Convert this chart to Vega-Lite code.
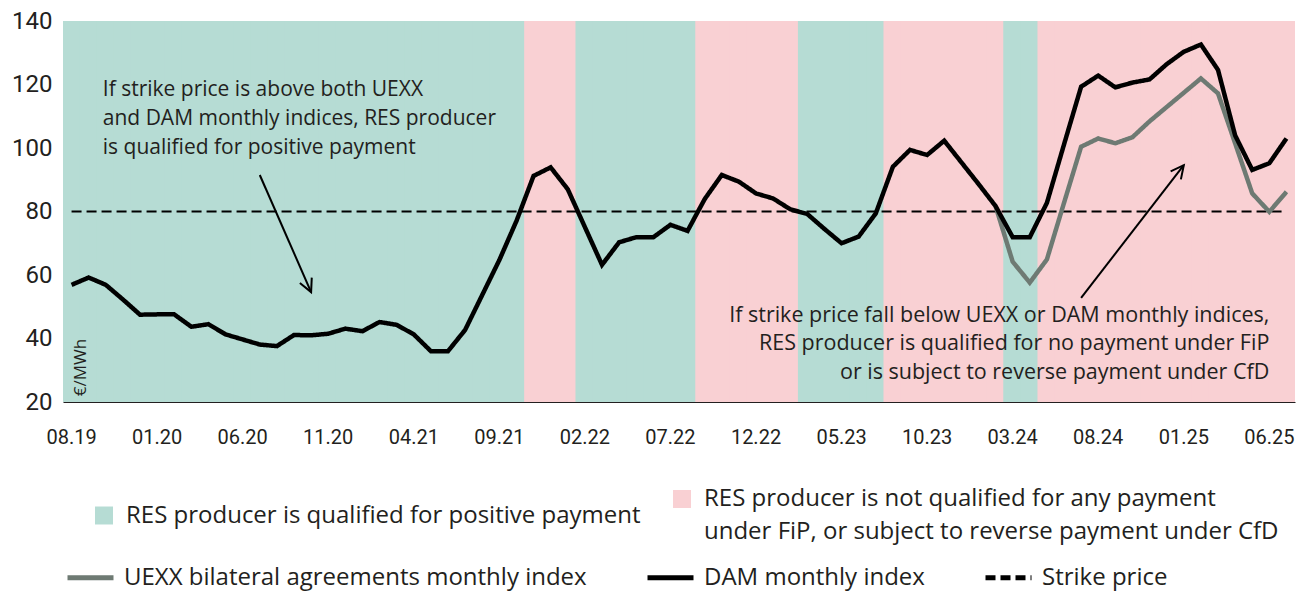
{
  "$schema": "https://vega.github.io/schema/vega-lite/v6.json",
  "width": 1232,
  "height": 381,
  "autosize": {"type": "none"},
  "padding": {"left": 63, "top": 21, "right": 1, "bottom": 189},
  "background": "white",
  "config": {
    "font": "Open Sans",
    "view": {"stroke": null},
    "axis": {"labelColor": "#231f20", "titleColor": "#231f20", "grid": false, "labelFont": "Roboto", "titleFont": "Open Sans"},
    "legend": {"labelColor": "#231f20", "labelFont": "Open Sans", "labelFontSize": 24, "labelLimit": 800, "padding": 0}
  },
  "datasets": {
    "main": [
      {"month": "08.19", "zone": "qualified", "dam": 56.9},
      {"month": "09.19", "zone": "qualified", "dam": 59.2},
      {"month": "10.19", "zone": "qualified", "dam": 56.9},
      {"month": "11.19", "zone": "qualified", "dam": 52.3},
      {"month": "12.19", "zone": "qualified", "dam": 47.5},
      {"month": "01.20", "zone": "qualified", "dam": 47.6},
      {"month": "02.20", "zone": "qualified", "dam": 47.6},
      {"month": "03.20", "zone": "qualified", "dam": 43.7},
      {"month": "04.20", "zone": "qualified", "dam": 44.5},
      {"month": "05.20", "zone": "qualified", "dam": 41.3},
      {"month": "06.20", "zone": "qualified", "dam": 39.7},
      {"month": "07.20", "zone": "qualified", "dam": 38.1},
      {"month": "08.20", "zone": "qualified", "dam": 37.6},
      {"month": "09.20", "zone": "qualified", "dam": 41.1},
      {"month": "10.20", "zone": "qualified", "dam": 41.0},
      {"month": "11.20", "zone": "qualified", "dam": 41.5},
      {"month": "12.20", "zone": "qualified", "dam": 43.1},
      {"month": "01.21", "zone": "qualified", "dam": 42.3},
      {"month": "02.21", "zone": "qualified", "dam": 45.2},
      {"month": "03.21", "zone": "qualified", "dam": 44.3},
      {"month": "04.21", "zone": "qualified", "dam": 41.3},
      {"month": "05.21", "zone": "qualified", "dam": 36.0},
      {"month": "06.21", "zone": "qualified", "dam": 36.0},
      {"month": "07.21", "zone": "qualified", "dam": 42.7},
      {"month": "08.21", "zone": "qualified", "dam": 53.7},
      {"month": "09.21", "zone": "qualified", "dam": 64.7},
      {"month": "10.21", "zone": "qualified", "dam": 77.0},
      {"month": "11.21", "zone": "not qualified", "dam": 91.2},
      {"month": "12.21", "zone": "not qualified", "dam": 93.9},
      {"month": "01.22", "zone": "not qualified", "dam": 87.0},
      {"month": "02.22", "zone": "qualified", "dam": 75.1},
      {"month": "03.22", "zone": "qualified", "dam": 63.2},
      {"month": "04.22", "zone": "qualified", "dam": 70.3},
      {"month": "05.22", "zone": "qualified", "dam": 71.9},
      {"month": "06.22", "zone": "qualified", "dam": 71.9},
      {"month": "07.22", "zone": "qualified", "dam": 75.8},
      {"month": "08.22", "zone": "qualified", "dam": 73.9},
      {"month": "09.22", "zone": "not qualified", "dam": 83.9},
      {"month": "10.22", "zone": "not qualified", "dam": 91.5},
      {"month": "11.22", "zone": "not qualified", "dam": 89.4},
      {"month": "12.22", "zone": "not qualified", "dam": 85.7},
      {"month": "01.23", "zone": "not qualified", "dam": 84.1},
      {"month": "02.23", "zone": "not qualified", "dam": 80.7},
      {"month": "03.23", "zone": "qualified", "dam": 79.2},
      {"month": "04.23", "zone": "qualified", "dam": 74.5},
      {"month": "05.23", "zone": "qualified", "dam": 70.0},
      {"month": "06.23", "zone": "qualified", "dam": 72.1},
      {"month": "07.23", "zone": "qualified", "dam": 79.4},
      {"month": "08.23", "zone": "not qualified", "dam": 94.1},
      {"month": "09.23", "zone": "not qualified", "dam": 99.4},
      {"month": "10.23", "zone": "not qualified", "dam": 97.8},
      {"month": "11.23", "zone": "not qualified", "dam": 102.3},
      {"month": "12.23", "zone": "not qualified", "dam": 95.5},
      {"month": "01.24", "zone": "not qualified", "dam": 88.7},
      {"month": "02.24", "zone": "not qualified", "dam": 81.7, "uexx": 81.7},
      {"month": "03.24", "zone": "qualified", "dam": 71.9, "uexx": 64.2},
      {"month": "04.24", "zone": "qualified", "dam": 71.9, "uexx": 57.6},
      {"month": "05.24", "zone": "not qualified", "dam": 82.7, "uexx": 64.9},
      {"month": "06.24", "zone": "not qualified", "dam": 101.1, "uexx": 82.7},
      {"month": "07.24", "zone": "not qualified", "dam": 119.3, "uexx": 100.4},
      {"month": "08.24", "zone": "not qualified", "dam": 122.8, "uexx": 103.0},
      {"month": "09.24", "zone": "not qualified", "dam": 119.1, "uexx": 101.5},
      {"month": "10.24", "zone": "not qualified", "dam": 120.6, "uexx": 103.4},
      {"month": "11.24", "zone": "not qualified", "dam": 121.6, "uexx": 108.4},
      {"month": "12.24", "zone": "not qualified", "dam": 126.4, "uexx": 112.9},
      {"month": "01.25", "zone": "not qualified", "dam": 130.3, "uexx": 117.4},
      {"month": "02.25", "zone": "not qualified", "dam": 132.6, "uexx": 121.9},
      {"month": "03.25", "zone": "not qualified", "dam": 124.6, "uexx": 117.2},
      {"month": "04.25", "zone": "not qualified", "dam": 104.0, "uexx": 101.5},
      {"month": "05.25", "zone": "not qualified", "dam": 93.1, "uexx": 85.7},
      {"month": "06.25", "zone": "not qualified", "dam": 95.2, "uexx": 79.9},
      {"month": "07.25", "zone": "not qualified", "dam": 103.0, "uexx": 86.2}
    ],
    "notes": [
      {"note": "left", "month": "10.19", "val": 116.4, "text": "If strike price is above both UEXX"},
      {"note": "left", "month": "10.19", "val": 107.2, "text": "and DAM monthly indices, RES producer"},
      {"note": "left", "month": "10.19", "val": 98.1, "text": "is qualified for positive payment"},
      {"note": "right", "month": "06.25", "val": 45.3, "text": "If strike price fall below UEXX or DAM monthly indices,"},
      {"note": "right", "month": "06.25", "val": 36.3, "text": "RES producer is qualified for no payment under FiP"},
      {"note": "right", "month": "06.25", "val": 27.4, "text": "or is subject to reverse payment under CfD"}
    ],
    "arrows": [
      {"arrow": "a1", "role": "tail", "month": "07.20", "val": 91.5},
      {"arrow": "a1", "role": "head", "month": "10.20", "val": 54.6},
      {"arrow": "a2", "role": "tail", "month": "07.24", "val": 52.8},
      {"arrow": "a2", "role": "head", "month": "01.25", "val": 94.6}
    ]
  },
  "data": {"name": "main"},
  "layer": [
    {
      "mark": {"type": "bar", "width": {"band": 1.1}, "clip": true},
      "encoding": {
        "x": {
          "field": "month", "type": "ordinal", "title": null,
          "scale": {
            "domain": ["08.19","09.19","10.19","11.19","12.19","01.20","02.20","03.20","04.20","05.20","06.20","07.20","08.20","09.20","10.20","11.20","12.20","01.21","02.21","03.21","04.21","05.21","06.21","07.21","08.21","09.21","10.21","11.21","12.21","01.22","02.22","03.22","04.22","05.22","06.22","07.22","08.22","09.22","10.22","11.22","12.22","01.23","02.23","03.23","04.23","05.23","06.23","07.23","08.23","09.23","10.23","11.23","12.23","01.24","02.24","03.24","04.24","05.24","06.24","07.24","08.24","09.24","10.24","11.24","12.24","01.25","02.25","03.25","04.25","05.25","06.25","07.25"],
            "paddingInner": 0, "paddingOuter": 0
          },
          "axis": {
            "values": ["08.19","01.20","06.20","11.20","04.21","09.21","02.22","07.22","12.22","05.23","10.23","03.24","08.24","01.25","06.25"],
            "labelAngle": 0, "labelFontSize": 20, "labelPadding": 25, "ticks": false,
            "domain": true, "domainColor": "#231f20", "domainWidth": 1.2, "zindex": 1
          }
        },
        "y": {
          "datum": 140, "type": "quantitative", "title": "€/MWh",
          "scale": {"domain": [20, 140], "nice": false},
          "axis": {
            "values": [20, 40, 60, 80, 100, 120, 140], "domain": false, "ticks": false,
            "labelFontSize": 24, "labelPadding": 11, "zindex": 1,
            "titleFontSize": 17, "titleFontWeight": "normal", "titleX": 17, "titleY": 346,
            "titleAngle": 270, "titleAlign": "center", "titleBaseline": "middle"
          }
        },
        "y2": {"datum": 20},
        "fill": {
          "field": "zone", "type": "nominal",
          "scale": {"domain": ["qualified", "not qualified"], "range": ["#b6dcd4", "#f9d0d3"]},
          "legend": {
            "title": null, "orient": "none", "direction": "horizontal", "legendX": 29, "legendY": 466,
            "symbolType": "square", "symbolSize": 324, "symbolStrokeWidth": 0, "labelOffset": 10, "columnPadding": 29,
            "labelExpr": "datum.label == 'qualified' ? 'RES producer is qualified for positive payment' : ['RES producer is not qualified for any payment', 'under FiP, or subject to reverse payment under CfD']",
            "encode": {"labels": {"update": {"lineHeight": {"value": 33}}}}
          }
        }
      }
    },
    {
      "mark": {"type": "line", "strokeWidth": 2},
      "encoding": {
        "x": {"field": "month", "type": "ordinal", "title": null},
        "y": {"datum": 80, "type": "quantitative", "title": "€/MWh"},
        "stroke": {
          "datum": "Strike price", "type": "nominal",
          "scale": {"domain": ["UEXX bilateral agreements monthly index", "DAM monthly index", "Strike price"], "range": ["#6e7a73", "#000000", "#000000"]},
          "legend": {
            "title": null, "orient": "none", "direction": "horizontal", "legendX": 2, "legendY": 531,
            "symbolType": "stroke", "symbolSize": 2116, "symbolStrokeWidth": 5, "labelOffset": 8, "columnPadding": 50
          }
        },
        "strokeDash": {
          "datum": "Strike price", "type": "nominal",
          "scale": {"domain": ["UEXX bilateral agreements monthly index", "DAM monthly index", "Strike price"], "range": [[1, 0], [1, 0], [10, 5]]},
          "legend": {
            "title": null, "orient": "none", "direction": "horizontal", "legendX": 2, "legendY": 531,
            "symbolType": "stroke", "symbolSize": 2116, "symbolStrokeWidth": 5, "labelOffset": 8, "columnPadding": 50
          }
        }
      }
    },
    {
      "mark": {"type": "line", "strokeWidth": 4.5, "strokeJoin": "miter"},
      "encoding": {
        "x": {"field": "month", "type": "ordinal", "title": null},
        "y": {"field": "uexx", "type": "quantitative", "title": "€/MWh"},
        "stroke": {"datum": "UEXX bilateral agreements monthly index", "type": "nominal"},
        "strokeDash": {"datum": "UEXX bilateral agreements monthly index", "type": "nominal"}
      }
    },
    {
      "mark": {"type": "line", "strokeWidth": 4.5, "strokeJoin": "miter"},
      "encoding": {
        "x": {"field": "month", "type": "ordinal", "title": null},
        "y": {"field": "dam", "type": "quantitative", "title": "€/MWh"},
        "stroke": {"datum": "DAM monthly index", "type": "nominal"},
        "strokeDash": {"datum": "DAM monthly index", "type": "nominal"}
      }
    },
    {
      "data": {"name": "arrows"},
      "mark": {"type": "line", "strokeWidth": 2, "color": "#000000"},
      "encoding": {
        "x": {"field": "month", "type": "ordinal", "title": null},
        "y": {"field": "val", "type": "quantitative", "title": "€/MWh"},
        "detail": {"field": "arrow", "type": "nominal"}
      }
    },
    {
      "data": {"name": "arrows"},
      "transform": [{"filter": "datum.arrow == 'a1' && datum.role == 'head'"}],
      "mark": {"type": "point", "shape": "M-0.5,1L0,0L0.5,1", "size": 676, "filled": false, "stroke": "#000000", "strokeWidth": 2, "angle": 156, "opacity": 1},
      "encoding": {
        "x": {"field": "month", "type": "ordinal", "title": null},
        "y": {"field": "val", "type": "quantitative", "title": "€/MWh"}
      }
    },
    {
      "data": {"name": "arrows"},
      "transform": [{"filter": "datum.arrow == 'a2' && datum.role == 'head'"}],
      "mark": {"type": "point", "shape": "M-0.5,1L0,0L0.5,1", "size": 676, "filled": false, "stroke": "#000000", "strokeWidth": 2, "angle": 38, "opacity": 1},
      "encoding": {
        "x": {"field": "month", "type": "ordinal", "title": null},
        "y": {"field": "val", "type": "quantitative", "title": "€/MWh"}
      }
    },
    {
      "data": {"name": "notes"},
      "transform": [{"filter": "datum.note == 'left'"}],
      "mark": {"type": "text", "align": "left", "baseline": "alphabetic", "fontSize": 21, "font": "Open Sans", "color": "#231f20", "dx": -3},
      "encoding": {
        "x": {"field": "month", "type": "ordinal", "title": null},
        "y": {"field": "val", "type": "quantitative", "title": "€/MWh"},
        "text": {"field": "text"}
      }
    },
    {
      "data": {"name": "notes"},
      "transform": [{"filter": "datum.note == 'right'"}],
      "mark": {"type": "text", "align": "right", "baseline": "alphabetic", "fontSize": 21.5, "font": "Open Sans", "color": "#231f20", "dx": 0},
      "encoding": {
        "x": {"field": "month", "type": "ordinal", "title": null},
        "y": {"field": "val", "type": "quantitative", "title": "€/MWh"},
        "text": {"field": "text"}
      }
    }
  ]
}
